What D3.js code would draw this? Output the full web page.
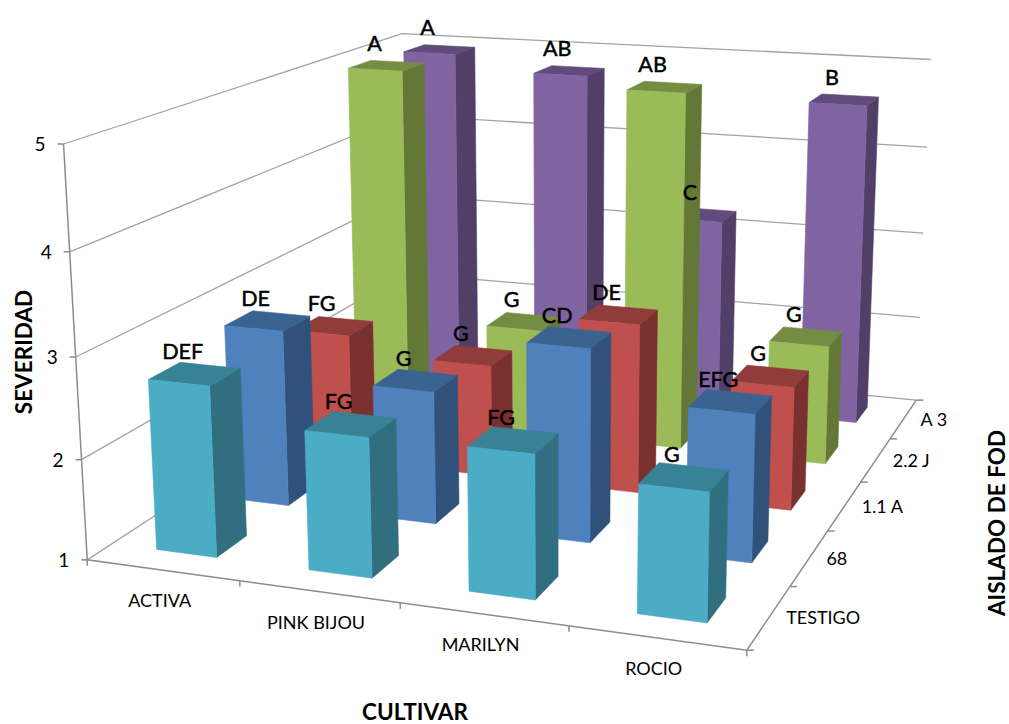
<!DOCTYPE html>
<html>
<head>
<meta charset="utf-8">
<script src="https://cdn.jsdelivr.net/npm/d3@7"></script>
<style>
  html, body { margin: 0; padding: 0; background: #fff; }
  svg { display: block; }
  text { font-family: Lato, "Open Sans", sans-serif; fill: #000; }
</style>
</head>
<body>
<svg id="chart" width="1009" height="724"></svg>
<script>
// Disease severity per cultivar and Fusarium isolate
const cultivars = ["ACTIVA", "PINK BIJOU", "MARILYN", "ROCIO"];
const isolates = ["TESTIGO", "68", "1.1 A", "2.2 J", "A 3"];
const valueTicks = [1, 2, 3, 4, 5];

const testigoValues = [2.7, 2.37, 2.39, 2.22];
const isolate68Values = [2.83, 2.36, 2.95, 2.47];
const isolate11Values = [2.38, 2.2, 2.79, 2.29];
const isolate22Values = [4.98, 2.18, 4.91, 2.3];
const isolateA3Values = [4.95, 4.78, 3.2, 4.62];

const testigoLetters = ["DEF", "FG", "FG", "G"];
const isolate68Letters = ["DE", "G", "CD", "EFG"];
const isolate11Letters = ["FG", "G", "DE", "G"];
const isolate22Letters = ["A", "G", "AB", "G"];
const isolateA3Letters = ["A", "AB", "C", "B"];

const seriesValues = [testigoValues, isolate68Values, isolate11Values, isolate22Values, isolateA3Values];
const seriesLetters = [testigoLetters, isolate68Letters, isolate11Letters, isolate22Letters, isolateA3Letters];

// front, top and side shades of each series
const frontColors = ["#4bacc6", "#4f81bd", "#c0504d", "#9bbb59", "#8064a2"];
const topColors = ["#388296", "#3b6391", "#903c3a", "#748d43", "#604b7a"];
const sideColors = ["#316f80", "#30527a", "#7a302e", "#637836", "#523f68"];

// Unit-box scales: x across cultivars, z into the page, y up the value axis
const x = d3.scaleBand().domain(cultivars).range([0, 1]).paddingInner(0.6).paddingOuter(0.3);
const z = d3.scaleBand().domain(isolates).range([0, 1]).paddingInner(0.6).paddingOuter(0.3);
const y = d3.scaleLinear().domain([1, 5]).range([0, 1]);

// Camera calibration: box locations and where they land on the page
const calibration = [
  [0, 0, 0, 86, 560], [0, .25, 0, 81, 459], [0, .5, 0, 76, 356], [0, .75, 0, 70, 252], [0, 1, 0, 65, 145],
  [1, 0, 1, 915, 400], [1, .25, 1, 919, 318], [1, .5, 1, 923, 233], [1, .75, 1, 927, 147], [1, 1, 1, 932, 60],
  [0, 1, 1, 400, 33], [0, 0, 1, 410, 351],
  [.25, 0, 0, 240, 581], [.5, 0, 0, 400, 603], [.75, 0, 0, 568, 627], [1, 0, 0, 745, 650],
  [1, 0, .2, 792, 586], [1, 0, .4, 828, 530], [1, 0, .6, 862, 482], [1, 0, .8, 890, 439]
];

// Least-squares solve for the 3x4 projective camera matrix
function solveCamera(points) {
  const n = 11, k = 1000;
  const A = d3.range(n).map(() => new Array(n + 1).fill(0));
  const add = (row, rhs) => {
    for (let i = 0; i < n; i++) {
      for (let j = 0; j < n; j++) A[i][j] += row[i] * row[j];
      A[i][n] += row[i] * rhs;
    }
  };
  for (const [X, Y, Z, px, py] of points) {
    const u = px / k, v = py / k;
    add([X, Y, Z, 1, 0, 0, 0, 0, -u * X, -u * Y, -u * Z], u);
    add([0, 0, 0, 0, X, Y, Z, 1, -v * X, -v * Y, -v * Z], v);
  }
  for (let c = 0; c < n; c++) {
    let pivot = c;
    for (let r = c + 1; r < n; r++) if (Math.abs(A[r][c]) > Math.abs(A[pivot][c])) pivot = r;
    [A[c], A[pivot]] = [A[pivot], A[c]];
    for (let r = 0; r < n; r++) {
      if (r === c) continue;
      const f = A[r][c] / A[c][c];
      for (let j = c; j <= n; j++) A[r][j] -= f * A[c][j];
    }
  }
  const m = A.map((row, i) => row[n] / row[i]);
  return (X, Y, Z) => {
    const w = m[8] * X + m[9] * Y + m[10] * Z + 1;
    return [
      k * (m[0] * X + m[1] * Y + m[2] * Z + m[3]) / w,
      k * (m[4] * X + m[5] * Y + m[6] * Z + m[7]) / w
    ];
  };
}
const project = solveCamera(calibration);

const svg = d3.select("#chart");
const segment = d3.line();
const polygon = pts => segment(pts) + "Z";

// Walls: gridlines run along the left wall, then the back wall
const gridColor = "#a3a3a3", axisColor = "#8c8c8c";
const walls = svg.append("g").attr("fill", "none").attr("stroke", gridColor).attr("stroke-width", 1.3);
valueTicks.forEach(v => {
  const t = y(v);
  walls.append("path").attr("d", segment([project(0, t, 0), project(0, t, 1), project(1, t, 1)]));
});

// Axes
const axes = svg.append("g").attr("fill", "none").attr("stroke", axisColor).attr("stroke-width", 1.5);
axes.append("path").attr("d", segment([project(0, 1, 0), project(0, 0, 0), project(1, 0, 0), project(1, 0, 1)]));
valueTicks.forEach(v => {
  const [px, py] = project(0, y(v), 0);
  axes.append("path").attr("d", segment([[px - 6, py], [px, py]]));
});
d3.range(5).forEach(i => {
  const [px, py] = project(i / 4, 0, 0);
  axes.append("path").attr("d", segment([[px, py], [px, py + 6]]));
});
d3.range(6).forEach(i => {
  const [px, py] = project(1, 0, i / 5);
  axes.append("path").attr("d", segment([[px, py], [px + 7, py]]));
});

// Bars, painted from the back row forward and left to right within each row
const w = x.bandwidth(), d = z.bandwidth();
const barLayer = svg.append("g");
const labelLayer = svg.append("g");
d3.range(isolates.length).reverse().forEach(s => {
  const z0 = z(isolates[s]), z1 = z0 + d;
  cultivars.forEach((c, i) => {
    const x0 = x(c), x1 = x0 + w, t = y(seriesValues[s][i]);
    const g = barLayer.append("g");
    const face = (pts, fill) => g.append("path")
      .attr("d", polygon(pts)).attr("fill", fill).attr("stroke", fill).attr("stroke-width", 0.6);
    face([project(x1, 0, z0), project(x1, 0, z1), project(x1, t, z1), project(x1, t, z0)], sideColors[s]);
    face([project(x0, t, z0), project(x1, t, z0), project(x1, t, z1), project(x0, t, z1)], topColors[s]);
    face([project(x0, 0, z0), project(x1, 0, z0), project(x1, t, z0), project(x0, t, z0)], frontColors[s]);
    const [cx, cy] = project(x0 + w / 2, t, z0 + d / 2);
    labelLayer.append("text")
      .attr("x", cx - 12).attr("y", cy - 15)
      .attr("text-anchor", "middle")
      .attr("font-size", 21.5)
      .style("stroke", "#000").style("stroke-width", 0.5)
      .text(seriesLetters[s][i]);
  });
});

// Tick labels
const ticks = svg.append("g").attr("font-size", 18);
valueTicks.forEach(v => {
  const [px, py] = project(0, y(v), 0);
  ticks.append("text").attr("x", px - 18).attr("y", py + 7)
    .attr("text-anchor", "end").attr("font-size", 19).text(v);
});
cultivars.forEach(c => {
  const [px, py] = project(x(c) + w / 2, 0, 0);
  ticks.append("text").attr("x", px - 3).attr("y", py + 37)
    .attr("text-anchor", "middle").text(c);
});
isolates.forEach(s => {
  const [px, py] = project(1, 0, z(s) + d / 2);
  ticks.append("text").attr("x", px + 17).attr("y", py + 7).text(s);
});

// Axis titles
const titles = svg.append("g").attr("font-size", 22.5).attr("font-weight", 700);
titles.append("text").attr("text-anchor", "middle")
  .attr("transform", "translate(32,352) rotate(-90)").text("SEVERIDAD");
titles.append("text").attr("text-anchor", "middle")
  .attr("x", 415).attr("y", 720).text("CULTIVAR");
titles.append("text").attr("text-anchor", "middle")
  .attr("transform", "translate(1005,523) rotate(-90)").text("AISLADO DE FOD");
</script>
</body>
</html>
